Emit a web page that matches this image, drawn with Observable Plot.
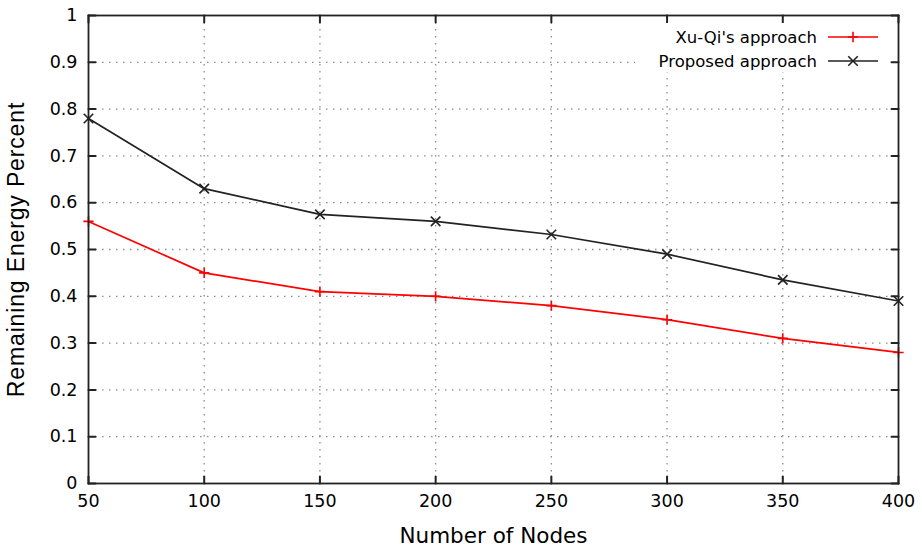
<!DOCTYPE html>
<html><head><meta charset="utf-8">
<script src="https://cdn.jsdelivr.net/npm/d3@7"></script>
<script src="https://cdn.jsdelivr.net/npm/@observablehq/plot@0.6"></script>
<style>
body{margin:0;background:#fff}
#wrap{position:relative;width:922px;height:552px}
#legend{position:absolute;left:635px;top:23px;width:254px;height:49px;background:#fff}
</style>
</head><body><div id="wrap"><div id="legend"></div></div>
<script>
const nodes = [50, 100, 150, 200, 250, 300, 350, 400];
const xuQi = [0.56, 0.45, 0.41, 0.40, 0.38, 0.35, 0.31, 0.28];
const proposed = [0.78, 0.63, 0.575, 0.56, 0.532, 0.49, 0.435, 0.39];
const seriesNames = ["Xu-Qi's approach", "Proposed approach"];
const seriesColors = ["#ff0000", "#222222"];
const seriesSymbols = ["plus", "times"];
const xTicks = [50, 100, 150, 200, 250, 300, 350, 400];
const yTicks = [0, 0.1, 0.2, 0.3, 0.4, 0.5, 0.6, 0.7, 0.8, 0.9, 1];
const yTickLabels = ["0", "0.1", "0.2", "0.3", "0.4", "0.5", "0.6", "0.7", "0.8", "0.9", "1"];
const xLabel = "Number of Nodes";
const yLabel = "Remaining Energy Percent";

const seriesValues = [xuQi, proposed];
const rows = [];
seriesValues.forEach((vals, s) => vals.forEach((v, i) => rows.push({x: nodes[i], y: v, s})));

const symR = [3.4, 4.4];
const innerX = xTicks.slice(1, -1);
const innerY = yTicks.slice(1, -1);
const lineShape = {draw(ctx, l) { ctx.moveTo(0, 0); ctx.lineTo(0, -l); }};
const tickStyle = {length: 7, anchor: "start", shape: lineShape, stroke: "#222", strokeWidth: 2};
const grid = {stroke: "#8c8c8c", strokeWidth: 1.3, strokeDasharray: "1.5,5.5"};

const marks = [
  Plot.ruleX(innerX, {x: d => d, ...grid}),
  Plot.ruleY(innerY, {y: d => d, ...grid}),
];
seriesValues.forEach((_, s) => {
  const data = rows.filter(r => r.s === s);
  marks.push(Plot.line(data, {x: "x", y: "y", stroke: seriesColors[s], strokeWidth: 1.7}));
  marks.push(Plot.dot(data, {x: "x", y: "y", stroke: seriesColors[s], symbol: seriesSymbols[s], r: symR[s], strokeWidth: 1.6}));
});
marks.push(
  Plot.frame({stroke: "#222", strokeWidth: 1.8}),
  Plot.vector(yTicks, {y: d => d, frameAnchor: "left", rotate: 90, ...tickStyle}),
  Plot.vector(yTicks, {y: d => d, frameAnchor: "right", rotate: -90, ...tickStyle}),
  Plot.vector(xTicks, {x: d => d, frameAnchor: "bottom", rotate: 0, ...tickStyle}),
  Plot.vector(xTicks, {x: d => d, frameAnchor: "top", rotate: 180, ...tickStyle}),
  Plot.axisY({ticks: yTicks, tickSize: 0, tickPadding: 11, tickFormat: d => yTickLabels[yTicks.indexOf(d)], fontSize: 17.5, label: null, fill: "#000"}),
  Plot.axisX({ticks: xTicks, tickSize: 0, tickPadding: 11, tickFormat: d => String(d), fontSize: 17.5, label: null, fill: "#000"}),
  Plot.text([xLabel], {frameAnchor: "bottom", dy: 53, fontSize: 21.5, fill: "#000", lineAnchor: "middle"}),
  Plot.text([yLabel], {frameAnchor: "left", textAnchor: "middle", lineAnchor: "middle", dx: -72, rotate: -90, fontSize: 23, fontFamily: "Liberation Sans, Arial, sans-serif", fill: "#000", letterSpacing: "0.85px"})
);

const chart = Plot.plot({
  width: 922, height: 552,
  marginLeft: 88, marginRight: 24, marginTop: 15, marginBottom: 69,
  x: {domain: [50, 400]},
  y: {domain: [0, 1]},
  style: {fontFamily: "DejaVu Sans, Verdana, sans-serif", background: "#fff", overflow: "visible"},
  marks
});
document.getElementById("wrap").prepend(chart);
d3.select(chart).selectAll("text").filter(function() { return this.textContent === yLabel; })
  .style("letter-spacing", "0.85px");

// legend (inside plot, top-right, white box like gnuplot key)
const lg = d3.select("#legend").append("svg").attr("width", 254).attr("height", 49)
  .style("font-family", "DejaVu Sans, Verdana, sans-serif");
seriesNames.forEach((name, i) => {
  const y = 14 + i * 24;
  lg.append("text").attr("x", 182).attr("y", y).attr("dy", "0.35em").attr("text-anchor", "end")
    .attr("font-size", 16.5).attr("fill", "#000").text(name);
  lg.append("line").attr("x1", 193).attr("x2", 243).attr("y1", y).attr("y2", y)
    .attr("stroke", seriesColors[i]).attr("stroke-width", 1.7);
  const sym = seriesSymbols[i] === "plus" ? d3.symbolPlus : d3.symbolTimes;
  lg.append("path").attr("transform", `translate(218,${y})`)
    .attr("d", d3.symbol(sym, Math.PI * symR[i] * symR[i])()).attr("fill", "none")
    .attr("stroke", seriesColors[i]).attr("stroke-width", 1.6);
});
</script>
</body></html>
